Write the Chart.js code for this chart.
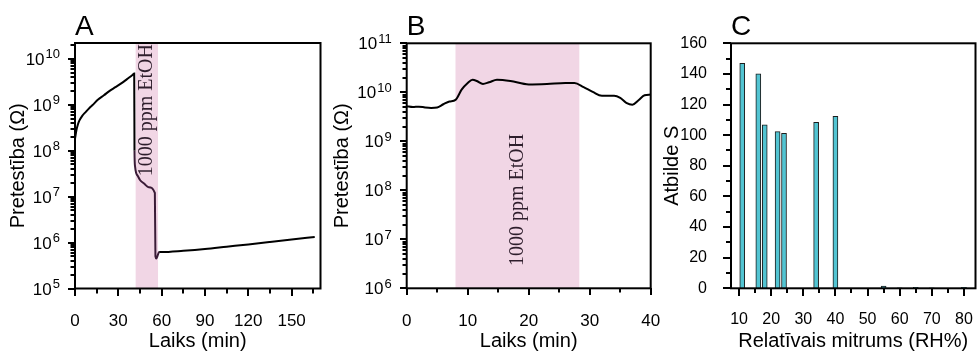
<!DOCTYPE html>
<html>
<head>
<meta charset="utf-8">
<script src="https://cdn.jsdelivr.net/npm/chart.js@4.4.1/dist/chart.umd.min.js"></script>
<style>
  body { margin: 0; background: #fff; width: 977px; height: 357px; position: relative; overflow: hidden; }
  canvas { position: absolute; top: 0; }
</style>
</head>
<body>
<canvas id="chartA" width="335" height="357" style="left:0px"></canvas>
<canvas id="chartB" width="335" height="357" style="left:330px"></canvas>
<canvas id="chartC" width="317" height="357" style="left:660px"></canvas>
<script>
// A - pretestiba laika gaita (min)
const timeA = [0, 1, 2, 3, 5, 7.5, 10, 12, 16, 20, 24, 28, 32, 36, 40, 41, 41.2, 41.6, 42.3, 43.5, 45, 48, 51, 55.3, 55.7, 56.3, 58.3, 60, 75, 90, 105, 120, 135, 150, 166];
const resistA = [1.8e8, 2.8e8, 3.7e8, 4.5e8, 5.7e8, 7e8, 8.5e8, 9.7e8, 1.3e9, 1.6e9, 2e9, 2.4e9, 2.9e9, 3.6e9, 4.5e9, 4.8e9, 1e8, 4.5e7, 3.3e7, 2.8e7, 2.3e7, 1.9e7, 1.6e7, 1.2e7, 5e5, 4.5e5, 6.2e5, 6.2e5, 6.6e5, 7.2e5, 8.1e5, 9.1e5, 1.03e6, 1.17e6, 1.32e6];
const bandA = [42, 57.5];
const xTicksA = [0, 15, 30, 45, 60, 75, 90, 105, 120, 135, 150, 165];
const decadesA = [5, 6, 7, 8, 9, 10];

// B
const timeB = [0, 1, 2, 3, 4, 5, 6, 7, 8, 9, 10, 10.8, 11.5, 12.5, 13.5, 14.8, 17, 20, 23, 26, 27.5, 29, 30.5, 32, 34, 35, 36, 37, 38, 39, 40];
const resistB = [5.2e9, 5e9, 5.1e9, 4.9e9, 4.8e9, 4.9e9, 5.7e9, 6.5e9, 7e9, 1.13e10, 1.55e10, 1.8e10, 1.7e10, 1.48e10, 1.6e10, 1.8e10, 1.7e10, 1.45e10, 1.48e10, 1.55e10, 1.55e10, 1.28e10, 1.02e10, 8.5e9, 8.5e9, 7.7e9, 6.1e9, 5.6e9, 6.9e9, 8.7e9, 9e9];
const bandB = [8, 28.3];
const xTicksB = [0, 5, 10, 15, 20, 25, 30, 35, 40];
const decadesB = [6, 7, 8, 9, 10, 11];

// C - atbilde pie dazada mitruma
const humidity = [11, 16, 18, 22, 24, 34, 40, 55, 60, 65, 70, 80];
const response = [147, 140, 106.7, 102.3, 101.2, 108.4, 112.3, 1.5, 0.3, 0.6, 0.3, 0.6];
const xTicksC = [10, 15, 20, 25, 30, 35, 40, 45, 50, 55, 60, 65, 70, 75, 80];
const yTicksC = [0, 10, 20, 30, 40, 50, 60, 70, 80, 90, 100, 110, 120, 130, 140, 150, 160];

const bandText = '1000 ppm EtOH';

Chart.defaults.font.family = '"Liberation Sans", Arial, sans-serif';
Chart.defaults.color = '#000';

function logTicks(decades, max) {
    let out = [];
    decades.forEach(d => {
        for (let m = 1; m < 10; m++) {
            let v = m * Math.pow(10, d);
            if (v <= max * 1.0001) out.push(v);
        }
    });
    return out;
}

// ramja iestatijumi katram grafikam
const frameCfg = {
    chartA: {band: bandA, textY: 44, textAlign: 'right', xTicks: xTicksA, xMajor: 30, log: true,
        yTicks: logTicks(decadesA, 2.2e10), decades: decadesA, majorLen: 7, minorLen: 4.5, letter: 'A'},
    chartB: {band: bandB, textY: 200, textAlign: 'center', xTicks: xTicksB, xMajor: 10, log: true,
        yTicks: logTicks(decadesB, 1e11), decades: decadesB, majorLen: 7, minorLen: 4.5, letter: 'B'},
    chartC: {band: null, xTicks: xTicksC, xMajor: 10, yTicks: yTicksC, yMajor: 20, log: false,
        majorLen: 8, minorLen: 5, letter: 'C'}
};

function noPad(s) {
    s.paddingLeft = 0; s.paddingRight = 0; s.paddingTop = 0; s.paddingBottom = 0;
}

const frame = {
    id: 'frame',
    beforeDatasetsDraw(chart) {
        const o = frameCfg[chart.canvas.id];
        if (!o.band) return;
        const {ctx, chartArea: a, scales: {x}} = chart;
        const x0 = x.getPixelForValue(o.band[0]);
        const x1 = x.getPixelForValue(o.band[1]);
        ctx.save();
        ctx.fillStyle = 'rgb(241, 214, 229)';
        ctx.fillRect(x0, a.top, x1 - x0, a.bottom - a.top);
        ctx.translate((x0 + x1) / 2, o.textY);
        ctx.rotate(-Math.PI / 2);
        ctx.font = '20px "Liberation Serif"';
        ctx.fillStyle = '#2e1e2c';
        ctx.textAlign = o.textAlign;
        ctx.textBaseline = 'middle';
        ctx.fillText(bandText, 0, 0);
        ctx.restore();
    },
    afterDraw(chart) {
        const o = frameCfg[chart.canvas.id];
        const ctx = chart.ctx;
        const a = chart.chartArea;
        const x = chart.scales.x;
        const y = chart.scales.y;
        ctx.save();
        ctx.fillStyle = '#000';
        for (let i = 0; i < o.xTicks.length; i++) {
            const v = o.xTicks[i];
            const px = Math.round(x.getPixelForValue(v));
            const len = (v % o.xMajor === 0) ? o.majorLen : o.minorLen;
            ctx.fillRect(px - 1, Math.round(a.bottom), 2, len);
        }
        for (let i = 0; i < o.yTicks.length; i++) {
            const v = o.yTicks[i];
            const py = Math.round(y.getPixelForValue(v));
            let major;
            if (o.log) {
                const e = Math.log10(v);
                major = Math.abs(e - Math.round(e)) < 1e-6;
            } else {
                major = v % o.yMajor === 0;
            }
            const len = major ? o.majorLen : o.minorLen;
            ctx.fillRect(Math.round(a.left) - len, py - 1, len, 2);
        }
        ctx.strokeStyle = '#000';
        ctx.lineWidth = 2;
        ctx.strokeRect(a.left, a.top, a.right - a.left, a.bottom - a.top);

        // log ass etiketes 10^n
        if (o.log) {
            ctx.textBaseline = 'alphabetic';
            ctx.textAlign = 'left';
            o.decades.forEach(d => {
                const py = y.getPixelForValue(Math.pow(10, d));
                ctx.font = '17px "Liberation Sans"';
                const w1 = ctx.measureText('10').width;
                ctx.font = '13px "Liberation Sans"';
                const w2 = ctx.measureText(String(d)).width;
                const x0 = a.left - 15 - w1 - w2 - 1;
                ctx.font = '17px "Liberation Sans"';
                ctx.fillText('10', x0, py + 6);
                ctx.font = '13px "Liberation Sans"';
                ctx.fillText(String(d), x0 + w1 + 1, py - 0.5);
            });
        }

        ctx.font = '28px "Liberation Sans"';
        ctx.textAlign = 'left';
        ctx.textBaseline = 'alphabetic';
        ctx.fillText(o.letter, a.left, 35);
        ctx.restore();
    }
};

const titleFont = {size: 20};

let chartA = new Chart(document.getElementById('chartA'), {
    type: 'line',
    data: {
        datasets: [{
            data: timeA.map((t, i) => ({x: t, y: resistA[i]})),
            borderColor: '#000',
            borderWidth: 2,
            pointRadius: 0,
            cubicInterpolationMode: 'monotone',
            segment: {
                borderColor: c => (c.p0.parsed.x >= 41.2 && c.p1.parsed.x <= 58.3) ? '#3a1c37' : undefined
            }
        }]
    },
    options: {
        responsive: false,
        animation: false,
        layout: {padding: {left: 0, top: 43, right: 14.5, bottom: 0}},
        plugins: {legend: {display: false}, tooltip: {enabled: false}},
        scales: {
            x: {
                type: 'linear', min: 0, max: 170,
                grid: {display: false}, border: {display: false},
                afterBuildTicks: s => { s.ticks = xTicksA.map(v => ({value: v})); },
                afterFit: s => { s.height = 68.5; noPad(s); },
                ticks: {font: {size: 17}, padding: 15, autoSkip: false, maxRotation: 0,
                    callback: v => (v % 30 === 0 ? v : '')},
                title: {display: true, text: 'Laiks (min)', font: titleFont, padding: {top: 0, bottom: 4}}
            },
            y: {
                type: 'logarithmic', min: 1e5, max: 2.2e10,
                grid: {display: false}, border: {display: false},
                afterFit: s => { s.width = 75; noPad(s); },
                ticks: {display: false},
                title: {display: true, text: 'Pretestība (Ω)', font: titleFont, padding: {top: 6.5, bottom: 0}}
            }
        }
    },
    plugins: [frame]
});

let chartB = new Chart(document.getElementById('chartB'), {
    type: 'line',
    data: {
        datasets: [{
            data: timeB.map((t, i) => ({x: t, y: resistB[i]})),
            borderColor: '#000',
            borderWidth: 2,
            pointRadius: 0,
            cubicInterpolationMode: 'monotone'
        }]
    },
    options: {
        responsive: false,
        animation: false,
        layout: {padding: {left: 0, top: 43.3, right: 14.3, bottom: 0}},
        plugins: {legend: {display: false}, tooltip: {enabled: false}},
        scales: {
            x: {
                type: 'linear', min: 0, max: 40,
                grid: {display: false}, border: {display: false},
                afterBuildTicks: s => { s.ticks = xTicksB.map(v => ({value: v})); },
                afterFit: s => { s.height = 68.7; noPad(s); },
                ticks: {font: {size: 17}, padding: 15, autoSkip: false, maxRotation: 0,
                    callback: v => (v % 10 === 0 ? v : '')},
                title: {display: true, text: 'Laiks (min)', font: titleFont, padding: {top: 0, bottom: 4}}
            },
            y: {
                type: 'logarithmic', min: 1e6, max: 1e11,
                grid: {display: false}, border: {display: false},
                afterFit: s => { s.width = 76.7; noPad(s); },
                ticks: {display: false},
                title: {display: true, text: 'Pretestība (Ω)', font: titleFont, padding: {top: 0.5, bottom: 0}}
            }
        }
    },
    plugins: [frame]
});

let chartC = new Chart(document.getElementById('chartC'), {
    type: 'bar',
    data: {
        datasets: [{
            data: humidity.map((h, i) => ({x: h, y: response[i]})),
            backgroundColor: '#52c4d2',
            borderColor: '#1c1c1c',
            borderWidth: 1,
            barThickness: 5
        }]
    },
    options: {
        responsive: false,
        animation: false,
        layout: {padding: {left: 0, top: 43.3, right: 1.5, bottom: 0}},
        plugins: {legend: {display: false}, tooltip: {enabled: false}},
        scales: {
            x: {
                type: 'linear', min: 7.5, max: 83.6, offset: false,
                grid: {display: false}, border: {display: false},
                afterBuildTicks: s => { s.ticks = xTicksC.map(v => ({value: v})); },
                afterFit: s => { s.height = 68.7; noPad(s); },
                ticks: {font: {size: 16}, padding: 14, autoSkip: false, maxRotation: 0,
                    callback: v => (v % 10 === 0 ? v : '')},
                title: {display: true, text: 'Relatīvais mitrums (RH%)', font: titleFont, padding: {top: 0, bottom: 4}}
            },
            y: {
                min: 0, max: 160,
                grid: {display: false}, border: {display: false},
                afterBuildTicks: s => { s.ticks = yTicksC.map(v => ({value: v})); },
                afterFit: s => { s.width = 71; noPad(s); },
                ticks: {font: {size: 16}, padding: 16, autoSkip: false,
                    callback: v => (v % 20 === 0 ? v : '')},
                title: {display: true, text: 'Atbilde S', font: titleFont, padding: {top: 0.5, bottom: 0}}
            }
        }
    },
    plugins: [frame]
});
</script>
</body>
</html>
